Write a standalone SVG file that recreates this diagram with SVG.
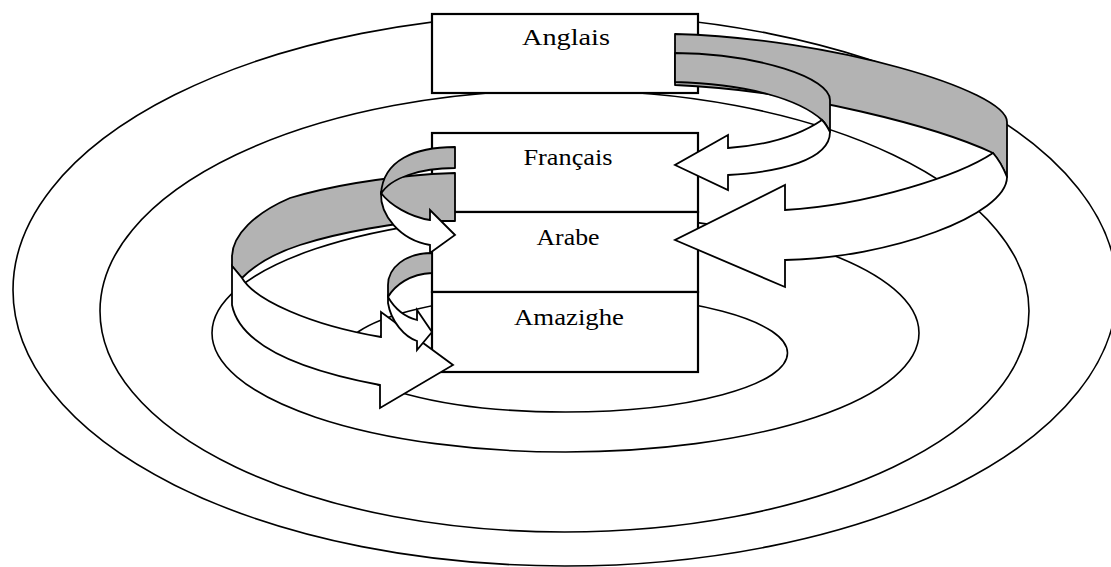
<svg xmlns="http://www.w3.org/2000/svg" width="1111" height="567" viewBox="0 0 1111 567">
<style>
.ell{fill:none;stroke:#000;stroke-width:1.6}
.box{fill:#fff;stroke:#000;stroke-width:2.2}
.lbl{font-family:"Liberation Serif","Times New Roman",serif;font-size:24px;fill:#000;text-anchor:middle}
.back{fill:#b3b3b3;stroke:#000;stroke-width:1.8;stroke-linejoin:round}
.front{fill:#fff;stroke:#000;stroke-width:1.8;stroke-linejoin:miter}
</style>
<rect width="1111" height="567" fill="#fff"/>
<g id="rings">
<ellipse class="ell" cx="565" cy="290" rx="552" ry="276"/>
<ellipse class="ell" cx="564.5" cy="311" rx="464.5" ry="221"/>
<ellipse class="ell" cx="565.5" cy="333" rx="353.5" ry="119"/>
<ellipse class="ell" cx="565.5" cy="353" rx="222" ry="59"/>
</g>
<g id="anglais"><rect class="box" x="432" y="14" width="266" height="79"/><text class="lbl" x="566" y="45" textLength="88" lengthAdjust="spacingAndGlyphs">Anglais</text></g>
<g id="francais"><rect class="box" x="432" y="133" width="266" height="79"/><text class="lbl" x="568" y="165" textLength="89" lengthAdjust="spacingAndGlyphs">Français</text></g>
<g id="arabe"><rect class="box" x="432" y="212" width="266" height="80"/><text class="lbl" x="568" y="245" textLength="63" lengthAdjust="spacingAndGlyphs">Arabe</text></g>
<g id="amazighe"><rect class="box" x="432" y="292" width="266" height="80"/><text class="lbl" x="569" y="325" textLength="110" lengthAdjust="spacingAndGlyphs">Amazighe</text></g>
<g id="connectors">
<!-- Anglais to Arabe (outer right) -->
<path class="back" d="M675,34 C830,38 1007,90 1007,122 L1007,177 Q1001,162 993,153 C940,128 800,90 675,85 Z"/>
<path class="front" d="M993,153 C960,175 870,205 785,210 L785,185 L675,240 L785,287 L785,260 C890,258 1007,215 1007,177 Q1001,162 993,153 Z"/>
<!-- Anglais to Francais (inner right) -->
<path class="back" d="M675,53 C760,54 830,78 830,100 L830,132 Q826,124 822,120 C800,100 750,84 675,82 Z"/>
<path class="front" d="M822,120 C800,135 770,145 728,148 L728,135 L675,165 L728,190 L728,175 C780,172 830,160 830,132 Q826,124 822,120 Z"/>
<!-- Francais to Amazighe (big left) -->
<path class="back" d="M455,173 L455,221 L432,221 C400,222 340,232 300,245 C275,253 255,265 242,278 L232,266 L232,257 C232,235 255,213 290,198 C330,186 380,178 432,174 Z"/>
<path class="front" d="M242,278 C255,300 310,325 381,337 L381,312 L453,365 L380,408 L380,385 C300,370 240,345 232,305 L232,266 Z"/>
<!-- Francais to Arabe (small upper left) -->
<path class="back" d="M455,147 C415,147 383,160 381,194 C390,178 420,168 455,168 Z"/>
<path class="front" d="M381,193 C380,215 400,240 430,245 L430,253 L455,235 L430,210 L430,220 C410,217 390,205 381,193 Z"/>
<!-- Arabe to Amazighe (small lower left) -->
<path class="back" d="M432,253 C405,253 388,268 388,285 L388,297 C395,285 410,274 432,273 Z"/>
<path class="front" d="M388,297 L388,303 C391,322 405,337 417,341 L417,350 L432,332 L417,310 L417,320 C405,317 395,309 388,297 Z"/>
</g>
</svg>
